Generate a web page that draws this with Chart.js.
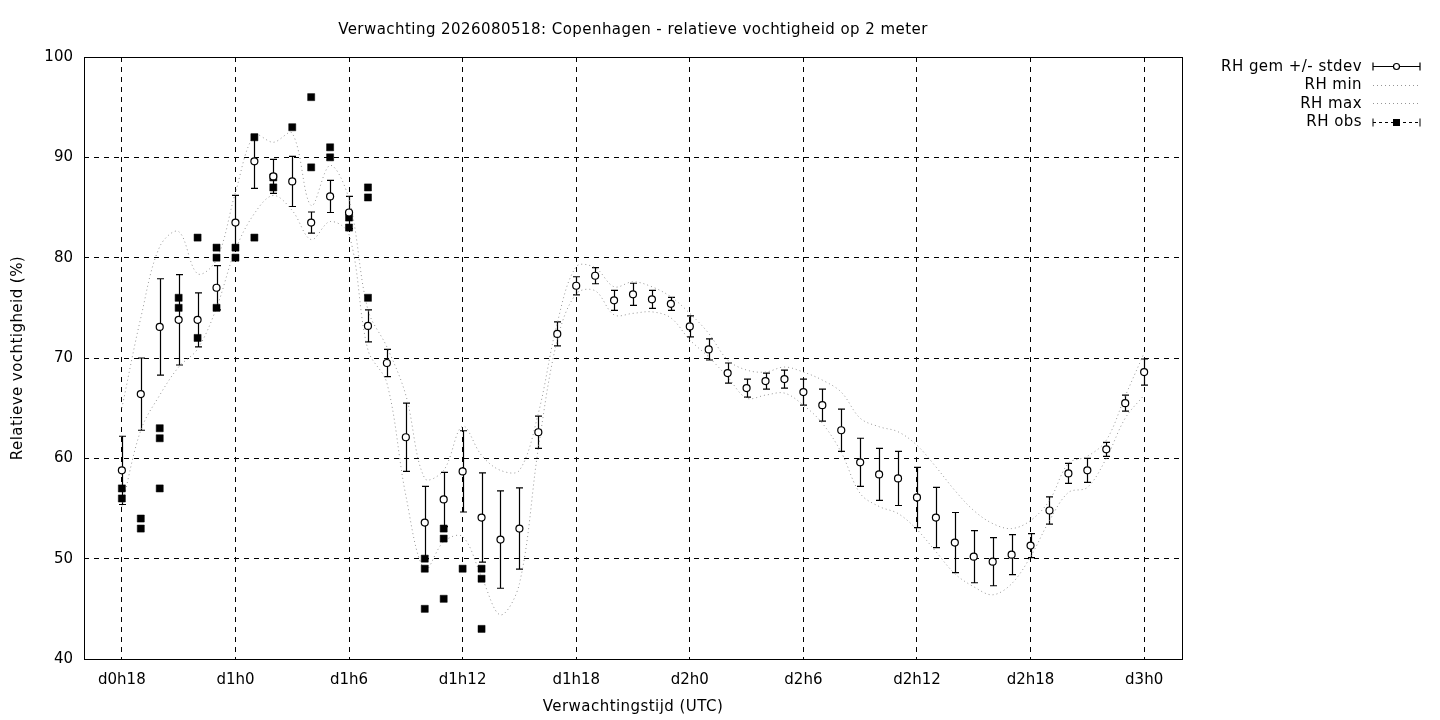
<!DOCTYPE html>
<html>
<head>
<meta charset="utf-8">
<title>RH Copenhagen</title>
<script src="https://cdn.jsdelivr.net/npm/chart.js@4.4.1/dist/chart.umd.min.js"></script>
<style>
  html, body { margin: 0; padding: 0; background: #fff; }
  canvas { display: block; }
</style>
</head>
<body>
<canvas id="rh-chart" width="1440" height="720"></canvas>
<script>
// forecast hours since d0h0
const hours = [18, 19, 20, 21, 22, 23, 24, 25, 26, 27, 28, 29, 30, 31, 32, 33, 34, 35, 36,
    37, 38, 39, 40, 41, 42, 43, 44, 45, 46, 47, 48, 49, 50, 51, 52, 53, 54, 55, 56,
    57, 58, 59, 60, 61, 62, 63, 64, 65, 66, 67, 68, 69, 70, 71, 72];

const rhMean = [58.8, 66.4, 73.1, 73.8, 73.8, 77.0, 83.5, 89.6, 88.1, 87.6, 83.5, 86.1, 84.5,
    73.2, 69.5, 62.1, 53.6, 55.9, 58.7, 54.1, 51.9, 53.0, 62.6, 72.4, 77.2, 78.2, 75.75,
    76.35, 75.85, 75.4, 73.15, 70.85, 68.5, 67.0, 67.7, 67.9, 66.6, 65.3, 62.8, 59.6, 58.4,
    58.0, 56.1, 54.1, 51.6, 50.2, 49.7, 50.4, 51.3, 54.8, 58.5, 58.8, 60.9, 65.5, 68.6];

const rhStdev = [3.4, 3.6, 4.8, 4.5, 2.7, 2.2, 2.7, 2.7, 1.7, 2.5, 1.05, 1.6, 1.6,
    1.6, 1.35, 3.4, 3.6, 2.7, 4.05, 4.45, 4.85, 4.05, 1.6, 1.2, 0.9, 0.8, 1.0,
    1.1, 0.9, 0.65, 1.05, 1.05, 1.0, 0.9, 0.8, 0.9, 1.3, 1.6, 2.1, 2.4, 2.6,
    2.7, 3.0, 3.0, 3.0, 2.6, 2.4, 2.0, 1.2, 1.35, 1.0, 1.2, 0.7, 0.8, 1.3];

const rhMin = [55.2, 62.8, 66.3, 69.1, 70.9, 75.0, 80.8, 84.4, 86.2, 84.7, 81.8, 83.6, 82.3,
    70.8, 67.5, 56.3, 48.9, 51.7, 52.2, 48.2, 44.4, 47.5, 61.0, 71.8, 76.4, 76.7, 74.3,
    74.45, 74.6, 74.0, 71.8, 70.1, 68.1, 66.0, 66.3, 66.5, 65.3, 63.5, 60.6, 56.5, 55.2,
    54.5, 52.9, 50.7, 48.5, 47.2, 46.4, 47.5, 50.2, 53.8, 56.6, 57.1, 60.0, 64.0, 66.3];

const rhMax = [65.0, 74.0, 81.1, 82.6, 78.4, 79.8, 86.5, 92.2, 91.5, 92.4, 85.2, 89.2, 85.8,
    74.8, 71.1, 66.3, 58.0, 58.8, 63.2, 60.3, 58.8, 58.8, 64.5, 73.5, 79.1, 79.0, 77.1,
    77.6, 77.1, 76.1, 74.45, 72.45, 69.8, 68.8, 68.6, 69.1, 68.6, 67.8, 66.6, 64.0, 63.15,
    62.65, 61.3, 59.15, 56.8, 54.8, 53.5, 53.0, 53.8, 55.8, 59.5, 60.2, 61.8, 66.2, 70.5];

// observations (several per hour sometimes)
const obsHours = [18, 18, 19, 19, 20, 20, 20, 21, 21, 22, 22, 23, 23, 23, 24, 24, 25, 25,
    26, 26, 27, 28, 28, 29, 29, 30, 30, 31, 31, 31, 34, 34, 34, 35, 35, 35, 36, 37, 37, 37];
const obsRH = [57, 56, 54, 53, 63, 62, 57, 76, 75, 82, 72, 81, 80, 75, 81, 80, 92, 82,
    88, 87, 93, 96, 89, 91, 90, 84, 83, 87, 86, 76, 50, 49, 45, 53, 52, 46, 49, 49, 48, 43];

const tickHours = [18, 24, 30, 36, 42, 48, 54, 60, 66, 72];
const tickLabels = ['d0h18', 'd1h0', 'd1h6', 'd1h12', 'd1h18', 'd2h0', 'd2h6', 'd2h12', 'd2h18', 'd3h0'];

const FONT = 'DejaVu Sans';
const GREY_DOT = 'rgb(150,150,150)';

function pts(xs, ys) {
    return xs.map((x, i) => ({ x: x, y: ys[i] }));
}

// error bars behind the open circles
const errorBars = {
    id: 'errorBars',
    beforeDatasetsDraw(chart) {
        const ctx = chart.ctx;
        const xs = chart.scales.x, ys = chart.scales.y;
        ctx.save();
        ctx.strokeStyle = '#000';
        ctx.lineWidth = 1.2;
        hours.forEach((h, i) => {
            const x = Math.round(xs.getPixelForValue(h)) + 0.5;
            const yTop = ys.getPixelForValue(rhMean[i] + rhStdev[i]);
            const yBot = ys.getPixelForValue(rhMean[i] - rhStdev[i]);
            ctx.beginPath();
            ctx.moveTo(x, yTop); ctx.lineTo(x, yBot);
            ctx.moveTo(x - 3.5, yTop); ctx.lineTo(x + 3.5, yTop);
            ctx.moveTo(x - 3.5, yBot); ctx.lineTo(x + 3.5, yBot);
            ctx.stroke();
        });
        ctx.restore();
    }
};

// frame, titles and gnuplot-like legend
const decorations = {
    id: 'decorations',
    afterDraw(chart) {
        const ctx = chart.ctx;
        const a = chart.chartArea;
        ctx.save();
        ctx.strokeStyle = '#000';
        ctx.lineWidth = 1;
        ctx.setLineDash([]);
        ctx.strokeRect(Math.round(a.left) + 0.5, Math.round(a.top) + 0.5,
            Math.round(a.right - a.left), Math.round(a.bottom - a.top));

        ctx.fillStyle = '#000';
        ctx.font = '15px "' + FONT + '"';
        if ('letterSpacing' in ctx) ctx.letterSpacing = '0.45px';
        ctx.textAlign = 'center';
        ctx.textBaseline = 'middle';
        const cx = (a.left + a.right) / 2;
        ctx.fillText('Verwachting 2026080518: Copenhagen - relatieve vochtigheid op 2 meter', cx, 30);
        ctx.fillText('Verwachtingstijd (UTC)', cx, 707);
        ctx.save();
        ctx.translate(18, (a.top + a.bottom) / 2);
        ctx.rotate(-Math.PI / 2);
        ctx.fillText('Relatieve vochtigheid (%)', 0, 0);
        ctx.restore();

        // legend
        const labels = ['RH gem +/- stdev', 'RH min', 'RH max', 'RH obs'];
        const rowY = [67, 85.5, 104, 122.5];
        const textRight = 1362, s0 = 1373, s1 = 1420, sm = (s0 + s1) / 2;
        ctx.textAlign = 'right';
        labels.forEach((t, i) => ctx.fillText(t, textRight, rowY[i]));

        // mean sample
        let y = Math.round(rowY[0] - 1) + 0.5;
        ctx.lineWidth = 1.2;
        ctx.beginPath();
        ctx.moveTo(s0, y); ctx.lineTo(s1, y);
        ctx.moveTo(s0, y - 4); ctx.lineTo(s0, y + 4);
        ctx.moveTo(s1, y - 4); ctx.lineTo(s1, y + 4);
        ctx.stroke();
        ctx.beginPath();
        ctx.arc(sm, y, 3, 0, Math.PI * 2);
        ctx.fillStyle = '#fff'; ctx.fill(); ctx.stroke();

        // min / max samples
        ctx.strokeStyle = GREY_DOT;
        ctx.lineWidth = 1;
        ctx.setLineDash([1, 3]);
        [1, 2].forEach(i => {
            const yy = Math.round(rowY[i] - 1) + 0.5;
            ctx.beginPath(); ctx.moveTo(s0, yy); ctx.lineTo(s1, yy); ctx.stroke();
        });

        // obs sample
        y = Math.round(rowY[3] - 1) + 0.5;
        ctx.strokeStyle = '#000';
        ctx.setLineDash([3, 3]);
        ctx.beginPath(); ctx.moveTo(s0, y); ctx.lineTo(s1, y); ctx.stroke();
        ctx.setLineDash([]);
        ctx.beginPath();
        ctx.moveTo(s0, y - 4); ctx.lineTo(s0, y + 4);
        ctx.moveTo(s1, y - 4); ctx.lineTo(s1, y + 4);
        ctx.stroke();
        ctx.fillStyle = '#000';
        ctx.fillRect(sm - 3.5, y - 3.5, 7, 7);
        ctx.restore();
    }
};

function createChart() {
    const ctx = document.getElementById('rh-chart').getContext('2d');

    new Chart(ctx, {
        type: 'line',
        data: {
            datasets: [{
                label: 'RH gem +/- stdev',
                data: pts(hours, rhMean),
                showLine: false,
                pointStyle: 'circle',
                pointRadius: 3.5,
                pointBorderWidth: 1.2,
                pointBorderColor: '#000',
                pointBackgroundColor: '#fff'
            }, {
                label: 'RH obs',
                data: pts(obsHours, obsRH),
                showLine: false,
                pointStyle: 'rect',
                pointRadius: 5,
                pointBorderWidth: 0.5,
                pointBorderColor: '#000',
                pointBackgroundColor: '#000'
            }, {
                label: 'RH min',
                data: pts(hours, rhMin),
                borderColor: GREY_DOT,
                borderWidth: 1,
                borderDash: [1, 3],
                pointRadius: 0,
                tension: 0.35,
                fill: false
            }, {
                label: 'RH max',
                data: pts(hours, rhMax),
                borderColor: GREY_DOT,
                borderWidth: 1,
                borderDash: [1, 3],
                pointRadius: 0,
                tension: 0.35,
                fill: false
            }]
        },
        options: {
            responsive: false,
            animation: false,
            devicePixelRatio: 1,
            layout: { padding: { left: 0, right: 258, top: 57, bottom: 0 } },
            plugins: {
                legend: { display: false },
                title: { display: false },
                tooltip: { enabled: false }
            },
            scales: {
                x: {
                    type: 'linear',
                    min: 16,
                    max: 74,
                    afterBuildTicks: scale => { scale.ticks = tickHours.map(v => ({ value: v })); },
                    afterFit: scale => { scale.height = 61; },
                    ticks: {
                        autoSkip: false,
                        maxRotation: 0,
                        padding: 12,
                        color: '#000',
                        font: { family: FONT, size: 15 },
                        callback: v => tickLabels[tickHours.indexOf(v)]
                    },
                    grid: { color: '#000', lineWidth: 1, drawTicks: false },
                    border: { display: false, dash: [5, 5] }
                },
                y: {
                    min: 40,
                    max: 100,
                    afterFit: scale => { scale.width = 84; },
                    ticks: {
                        stepSize: 10,
                        padding: 11,
                        color: '#000',
                        font: { family: FONT, size: 15 }
                    },
                    grid: { color: '#000', lineWidth: 1, drawTicks: false },
                    border: { display: false, dash: [5, 5] }
                }
            }
        },
        plugins: [errorBars, decorations]
    });
}

document.addEventListener('DOMContentLoaded', createChart);
</script>
</body>
</html>
